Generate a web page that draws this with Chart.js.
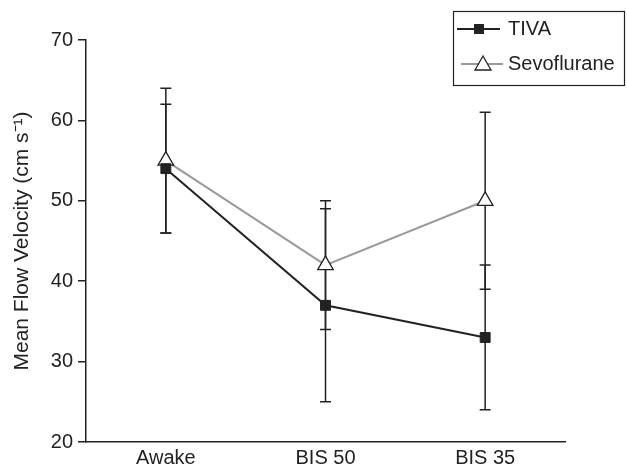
<!DOCTYPE html>
<html>
<head>
<meta charset="utf-8">
<script src="https://cdn.jsdelivr.net/npm/chart.js"></script>
<style>
  html, body { margin: 0; padding: 0; background: #fff; }
  #wrap { width: 627px; height: 469px; }
</style>
</head>
<body>
<div id="wrap"><canvas id="flowChart" width="627" height="469"></canvas></div>
<script>
// stages on the x axis
var stages = ['Awake', 'BIS 50', 'BIS 35'];
// mean flow velocity (cm/s) and the +/- error bar sizes
var tivaMean = [54, 37, 33];
var tivaErr = [8, 12, 9];
var sevoMean = [55, 42, 50];
var sevoErr = [9, 8, 11];
var yTicks = [20, 30, 40, 50, 60, 70];

var FONT = "'Liberation Sans', Arial, Helvetica, sans-serif";
var INK = '#222';

// draw the vertical error bars under the markers
var errorBars = {
    id: 'errorBars',
    beforeDatasetsDraw: function(chart) {
        var ctx = chart.ctx;
        var y = chart.scales.y;
        var errs = [tivaErr, sevoErr];
        ctx.save();
        ctx.strokeStyle = INK;
        ctx.lineWidth = 1.5;
        chart.data.datasets.forEach(function(ds, i) {
            var meta = chart.getDatasetMeta(i);
            meta.data.forEach(function(pt, j) {
                var hi = y.getPixelForValue(ds.data[j] + errs[i][j]);
                var lo = y.getPixelForValue(ds.data[j] - errs[i][j]);
                ctx.beginPath();
                ctx.moveTo(pt.x, hi); ctx.lineTo(pt.x, lo);
                ctx.moveTo(pt.x - 5.5, hi); ctx.lineTo(pt.x + 5.5, hi);
                ctx.moveTo(pt.x - 5.5, lo); ctx.lineTo(pt.x + 5.5, lo);
                ctx.stroke();
            });
        });
        ctx.restore();
    }
};

// boxed legend in the top right corner
var boxLegend = {
    id: 'boxLegend',
    afterDraw: function(chart) {
        var ctx = chart.ctx;
        ctx.save();
        ctx.strokeStyle = INK;
        ctx.lineWidth = 1.2;
        ctx.strokeRect(453.5, 11.5, 171, 74);

        // TIVA row
        ctx.strokeStyle = INK;
        ctx.lineWidth = 2;
        ctx.beginPath(); ctx.moveTo(457, 29); ctx.lineTo(500, 29); ctx.stroke();
        ctx.fillStyle = INK;
        ctx.fillRect(474, 24, 10, 10);

        // Sevoflurane row
        ctx.strokeStyle = '#999';
        ctx.beginPath(); ctx.moveTo(461, 64); ctx.lineTo(503, 64); ctx.stroke();
        ctx.fillStyle = '#fff';
        ctx.strokeStyle = INK;
        ctx.lineWidth = 1.3;
        ctx.beginPath();
        ctx.moveTo(483, 56); ctx.lineTo(491, 70); ctx.lineTo(475, 70); ctx.closePath();
        ctx.fill(); ctx.stroke();

        ctx.fillStyle = INK;
        ctx.font = '20px ' + FONT;
        ctx.textBaseline = 'middle';
        ctx.fillText('TIVA', 508, 29);
        ctx.fillText('Sevoflurane', 508, 64);
        ctx.restore();
    }
};

var config = {
    type: 'line',
    data: {
        labels: stages,
        datasets: [
            {
                label: 'TIVA',
                data: tivaMean,
                borderColor: INK,
                borderWidth: 2,
                pointStyle: 'rect',
                pointRadius: 7,
                pointBackgroundColor: INK,
                pointBorderColor: INK,
                pointBorderWidth: 1,
                tension: 0
            },
            {
                label: 'Sevoflurane',
                data: sevoMean,
                borderColor: '#999',
                borderWidth: 2,
                pointStyle: 'triangle',
                pointRadius: 9,
                pointBackgroundColor: '#fff',
                pointBorderColor: INK,
                pointBorderWidth: 1.3,
                tension: 0
            }
        ]
    },
    options: {
        responsive: false,
        animation: false,
        events: [],
        layout: { padding: { top: 40, right: 62, bottom: 0, left: 0 } },
        plugins: {
            legend: { display: false },
            tooltip: { enabled: false }
        },
        scales: {
            x: {
                offset: true,
                grid: { display: false, drawTicks: false },
                border: { display: true, color: INK, width: 1.5 },
                ticks: { color: INK, font: { family: FONT, size: 20 }, padding: 4 },
                afterFit: function(s) { s.height = 27; }
            },
            y: {
                min: 20,
                max: 70,
                afterBuildTicks: function(s) {
                    s.ticks = yTicks.map(function(v) { return { value: v }; });
                },
                grid: { drawOnChartArea: false, drawTicks: true, tickLength: 8, color: INK, lineWidth: 1.5 },
                border: { display: true, color: INK, width: 1.5 },
                ticks: { color: INK, font: { family: FONT, size: 20 }, padding: 5 },
                title: {
                    display: true,
                    text: 'Mean Flow Velocity (cm s\u207B\u00B9)',
                    color: INK,
                    font: { family: FONT, size: 21, lineHeight: 1.2 },
                    padding: { top: 10, bottom: 0 }
                },
                afterFit: function(s) { s.width = 86; }
            }
        }
    },
    plugins: [errorBars, boxLegend]
};

new Chart(document.getElementById('flowChart'), config);
</script>
</body>
</html>
